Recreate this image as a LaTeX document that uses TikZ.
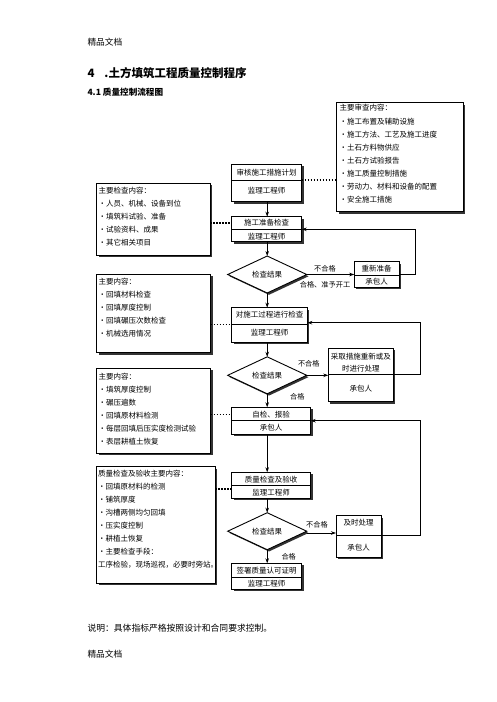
\documentclass[tikz,border=0pt]{standalone}
\usepackage{fontspec}
\setmainfont{Noto Sans CJK SC}
\usetikzlibrary{shadows,arrows.meta,shapes.geometric}
\newcommand\mybul{\makebox[7.5pt][c]{\fontsize{7.5}{5}\selectfont •}}
\tikzset{
  box/.style={draw, fill=white, line width=0.7pt, inner sep=0pt, outer sep=0pt,
    drop shadow={shadow xshift=1.8pt, shadow yshift=-1.8pt, fill=black!80, opacity=1}},
  dia/.style={diamond, draw, fill=white, line width=0.9pt, inner sep=0pt, outer sep=0pt,
    minimum width=79pt, minimum height=26pt, font=\fontsize{7.5}{8}\selectfont,
    drop shadow={shadow xshift=1.8pt, shadow yshift=-1.8pt, fill=black!80, opacity=1}},
  txt/.style={inner sep=0pt, font=\fontsize{7.5}{8}\selectfont},
  lbl/.style={inner sep=0pt, font=\fontsize{7.2}{8}\selectfont},
  list/.style={inner sep=0pt, anchor=north west, align=left, font=\fontsize{7.5}{13}\selectfont},
  div/.style={line width=0.7pt},
  arr/.style={line width=1.1pt, -{Stealth[length=5pt,width=3.5pt]}},
  back/.style={line width=0.8pt, -{Stealth[length=5pt,width=3.5pt]}},
  dot/.style={line width=1.2pt, dash pattern=on 1.5pt off 1.5pt},
}
\begin{document}
\begin{tikzpicture}[x=1pt,y=-1pt]
\useasboundingbox (0,0) rectangle (496,702);
\fill[white] (0,0) rectangle (496,702);

% header and footer
\node[inner sep=0pt, anchor=west, font=\fontsize{8.7}{9}\selectfont] (hdr) at (87.3,41.7) {精品文档};
\node[inner sep=0pt, anchor=west, font=\fontsize{11.5}{12}\selectfont\bfseries] (title) at (87.3,73.3) {4\hspace{10pt}.土方填筑工程质量控制程序};
\node[inner sep=0pt, anchor=west, font=\fontsize{8.6}{9}\selectfont\bfseries] (sub) at (87.3,91.7) {4.1 质量控制流程图};
\node[inner sep=0pt, anchor=west, font=\fontsize{8.8}{9}\selectfont] (note) at (87.3,628.3) {说明：具体指标严格按照设计和合同要求控制。};
\node[inner sep=0pt, anchor=west, font=\fontsize{8.7}{9}\selectfont] (ftr) at (87.3,654) {精品文档};

% side boxes
\node[box, minimum width=126.3pt, minimum height=109pt] (R1) at (399.85,157.2) {};
\node[list, font=\fontsize{7.5}{12.9}\selectfont] (R1t) at (339.3,103.5) {主要审查内容：\\[2pt]
\mybul 施工布置及辅助设施\\ \mybul 施工方法、工艺及施工进度\\ \mybul 土石方料物供应\\
\mybul 土石方试验报告\\ \mybul 施工质量控制措施\\ \mybul 劳动力、材料和设备的配置\\ \mybul 安全施工措施};

\node[box, minimum width=113.3pt, minimum height=71.7pt] (L1) at (153.35,219.15) {};
\node[list] (L1t) at (98.3,186.5) {主要检查内容：\\ \mybul 人员、机械、设备到位\\ \mybul 填筑料试验、准备\\
\mybul 试验资料、成果\\ \mybul 其它相关项目};

\node[box, minimum width=114pt, minimum height=78.4pt] (L2) at (153.7,313.5) {};
\node[list] (L2t) at (98.3,278.2) {主要内容：\\ \mybul 回填材料检查\\ \mybul 回填厚度控制\\
\mybul 回填碾压次数检查\\ \mybul 机械选用情况};

\node[box, minimum width=114pt, minimum height=85pt] (L3) at (153.7,410.8) {};
\node[list] (L3t) at (98.3,372.5) {主要内容：\\ \mybul 填筑厚度控制\\ \mybul 碾压遍数\\
\mybul 回填原材料检测\\ \mybul 每层回填后压实度检测试验\\ \mybul 表层耕植土恢复};

\node[box, minimum width=118.3pt, minimum height=116.6pt] (L4) at (155.85,525) {};
\node[list] (L4t) at (97.8,469.8) {质量检查及验收主要内容：\\ \mybul 回填原材料的检测\\ \mybul 铺筑厚度\\
\mybul 沟槽两侧均匀回填\\ \mybul 压实度控制\\ \mybul 耕植土恢复\\ \mybul 主要检查手段：\\ 工序检验，现场巡视，必要时旁站。};

% process boxes
\node[box, minimum width=70pt, minimum height=37.4pt] (plan) at (266.7,183) {};
\coordinate (plan-d) at (0,180);
\draw[div] (plan.west |- plan-d) -- (plan.east |- plan-d);
\node[txt] (planA) at (266.7,172.2) {审核施工措施计划};
\node[txt] (planB) at (266.7,190.8) {监理工程师};

\node[box, minimum width=70pt, minimum height=25pt] (prep) at (266.7,229.2) {};
\coordinate (prep-d) at (0,229.3);
\draw[div] (prep.west |- prep-d) -- (prep.east |- prep-d);
\node[txt] (prepA) at (266.7,223) {施工准备检查};
\node[txt] (prepB) at (266.7,236.2) {监理工程师};

\node[dia] (d1) at (267.2,274.5) {检查结果};

\node[box, minimum width=44.7pt, minimum height=25.6pt] (redo) at (376.65,274.5) {};
\coordinate (redo-d) at (0,275);
\draw[div] (redo.west |- redo-d) -- (redo.east |- redo-d);
\node[txt] (redoA) at (376.65,268.3) {重新准备};
\node[txt] (redoB) at (376.65,281.5) {承包人};

\node[box, minimum width=75.6pt, minimum height=34.6pt] (proc) at (269.5,325) {};
\coordinate (proc-d) at (0,324.3);
\draw[div] (proc.west |- proc-d) -- (proc.east |- proc-d);
\node[txt] (procA) at (269.5,315) {对施工过程进行检查};
\node[txt] (procB) at (269.5,332.7) {监理工程师};

\node[dia] (d2) at (267.2,375.3) {检查结果};

\node[box, minimum width=65pt, minimum height=53.4pt] (fix) at (360.8,375) {};
\coordinate (fix-d) at (0,374.3);
\draw[div] (fix.west |- fix-d) -- (fix.east |- fix-d);
\node[txt, align=center, font=\fontsize{7.5}{11.6}\selectfont] (fixA) at (360.8,362.5) {采取措施重新或及\\时进行处理};
\node[txt] (fixB) at (360.8,389) {承包人};

\node[box, minimum width=79pt, minimum height=26.7pt] (self) at (271.2,420.65) {};
\coordinate (self-d) at (0,420.7);
\draw[div] (self.west |- self-d) -- (self.east |- self-d);
\node[txt] (selfA) at (271.2,414.5) {自检、报验};
\node[txt] (selfB) at (271.2,428) {承包人};

\node[box, minimum width=79pt, minimum height=26pt] (qc) at (271.2,485.3) {};
\coordinate (qc-d) at (0,485.7);
\draw[div] (qc.west |- qc-d) -- (qc.east |- qc-d);
\node[txt] (qcA) at (271.2,479.8) {质量检查及验收};
\node[txt] (qcB) at (271.2,492.5) {监理工程师};

\node[dia] (d3) at (267.2,531.2) {检查结果};

\node[box, minimum width=45pt, minimum height=41.6pt] (handle) at (358.5,536.5) {};
\coordinate (handle-d) at (0,535.7);
\draw[div] (handle.west |- handle-d) -- (handle.east |- handle-d);
\node[txt] (handleA) at (358.5,522.7) {及时处理};
\node[txt] (handleB) at (358.5,547.7) {承包人};

\node[box, minimum width=70pt, minimum height=26pt] (sign) at (266.7,576.3) {};
\coordinate (sign-d) at (0,577.3);
\draw[div] (sign.west |- sign-d) -- (sign.east |- sign-d);
\node[txt] (signA) at (266.7,570.8) {签署质量认可证明};
\node[txt] (signB) at (266.7,583.8) {监理工程师};

% dotted links
\draw[dot] (plan.east |- plan-d) -- (R1.west |- plan-d);
\draw[dot] (L1.east |- prepA) -- (prep.west |- prepA);
\draw[dot] (L2.east |- proc-d) -- (proc.west |- proc-d);
\draw[dot] (L3.east |- selfA) -- (self.west |- selfA);
\coordinate (qc-dot) at (0,489);
\draw[dot] (L4.east |- qc-dot) -- (qc.west |- qc-dot);

% main flow
\draw[arr] (plan.south -| d1.north) -- (prep.north -| d1.north);
\draw[arr] (prep.south -| d1.north) -- (d1.north);
\draw[arr] (d1.south) -- (d1.south |- proc.north);
\draw[arr] (d2.north |- proc.south) -- (d2.north);
\draw[arr] (d2.south) -- (d2.south |- self.north);
\draw[arr] (d2.south |- self.south) -- (d2.south |- qc.north);
\draw[arr] (d3.north |- qc.south) -- (d3.north);
\draw[arr] (d3.south) -- (d3.south |- sign.north);

\draw[back] (d1.east) -- (redo.west |- d1.east);
\draw[back] (d2.east) -- (fix.west |- d2.east);
\coordinate (d3-out) at (0,533);
\draw[back] (d3.east |- d3-out) -- (handle.west |- d3-out);

% feedback loops
\coordinate (c1) at (415,229.3);
\draw[back] (redo.east) -| (c1) -- (prep.east |- c1);
\coordinate (c2) at (420.7,322.7);
\draw[back] (fix.east |- fix-d) -| (c2) -- (proc.east |- c2);
\coordinate (c3) at (420.7,420.7);
\draw[back] (handle.east |- handle-d) -| (c3) -- (self.east |- c3);

% labels
\node[lbl] (n1) at (325,268.3) {不合格};
\node[lbl] (p1) at (325,284.3) {合格、准予开工};
\node[lbl] (n2) at (308.8,363.3) {不合格};
\node[lbl] (p2) at (297.3,396.7) {合格};
\node[lbl] (n3) at (317,525) {不合格};
\node[lbl] (p3) at (288.7,556.7) {合格};
\end{tikzpicture}
\end{document}
